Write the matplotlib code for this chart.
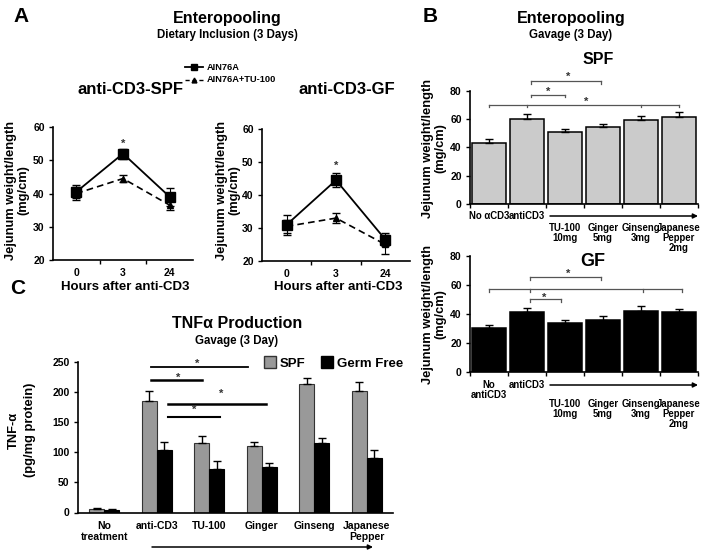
import matplotlib
matplotlib.use('Agg')
import matplotlib.pyplot as plt
import numpy as np
from matplotlib.lines import Line2D
from matplotlib.patches import Patch, FancyArrowPatch
import matplotlib.transforms as mtransforms

plt.rcParams['font.family'] = ['Liberation Sans', 'DejaVu Sans']
plt.rcParams['font.weight'] = 'bold'
plt.rcParams['axes.labelweight'] = 'bold'

W, H = 720, 551

# ---------------- data ----------------
hours = ['0', '3', '24']
spf_ain = [40.5, 52.0, 39.0]
spf_ain_err = [2.0, 1.5, 2.8]
spf_tu = [40.0, 44.5, 36.5]
spf_tu_err = [2.0, 1.0, 1.5]
gf_ain = [31.0, 44.5, 26.5]
gf_ain_err = [3.0, 2.2, 2.0]
gf_tu = [30.5, 33.0, 25.0]
gf_tu_err = [2.0, 1.5, 3.0]

gav_spf_labels = ['No \u03b1CD3', 'antiCD3', 'TU-100\n10mg', 'Ginger\n5mg', 'Ginseng\n3mg', 'Japanese\nPepper\n2mg']
gav_gf_labels = ['No\nantiCD3', 'antiCD3', 'TU-100\n10mg', 'Ginger\n5mg', 'Ginseng\n3mg', 'Japanese\nPepper\n2mg']
gav_spf = [43.5, 60.2, 50.8, 54.2, 59.8, 61.3]
gav_spf_err = [2.4, 3.6, 2.6, 2.4, 2.8, 3.8]
gav_gf = [29.8, 41.5, 33.7, 35.5, 42.0, 41.3]
gav_gf_err = [2.3, 2.5, 1.9, 3.0, 3.3, 1.9]

tnf_labels = ['No\ntreatment', 'anti-CD3', 'TU-100', 'Ginger', 'Ginseng', 'Japanese\nPepper']
tnf_spf = [6, 185, 116, 110, 213, 201]
tnf_spf_err = [1, 17, 11, 7, 11, 16]
tnf_gf = [4, 103, 73, 76, 116, 91]
tnf_gf_err = [1, 14, 12, 5.5, 8, 12]

# ---------------- helpers ----------------
def rect(l, t, r, b):
    return [l / W, 1 - b / H, (r - l) / W, (b - t) / H]

def fx(x):
    return x / W

def fy(y):
    return 1 - y / H

fig = plt.figure(figsize=(7.2, 5.51), dpi=100)

def ftext(x, y, s, size, ha='center', va='center', **kw):
    fig.text(fx(x), fy(y), s, fontsize=size, ha=ha, va=va, fontweight='bold', **kw)

def style_axes(ax):
    for s in ['top', 'right']:
        ax.spines[s].set_visible(False)
    for s in ['left', 'bottom']:
        ax.spines[s].set_linewidth(1.2)
    ax.tick_params(axis='both', which='both', labelsize=7.5, width=1, length=3, pad=3)
    for lab in ax.get_yticklabels():
        lab.set_fontweight('bold')

def star(ax, x, y, size=8):
    # place the glyph centre (not the text box centre) at (x, y)
    tr = mtransforms.offset_copy(ax.transData, fig=fig, y=-0.58 * size, units='points')
    ax.text(x, y, '*', transform=tr, ha='center', va='baseline', fontsize=size,
            color='#333333', clip_on=False)

def farrow(x0, x1, y):
    fig.add_artist(FancyArrowPatch((fx(x0), fy(y)), (fx(x1), fy(y)), transform=fig.transFigure,
                                   arrowstyle='-|>', mutation_scale=7, lw=1.1, color='black',
                                   shrinkA=0, shrinkB=0))

# ---------------- Panel A ----------------
ftext(13, 17, 'A', 15, ha='left')
ftext(227, 18, 'Enteropooling', 11.5)
ftext(227, 35, 'Dietary Inclusion (3 Days)', 8.3)
ftext(130, 89, 'anti-CD3-SPF', 12)
ftext(347, 89, 'anti-CD3-GF', 12)

fig.add_artist(Line2D([fx(185), fx(194), fx(203)], [fy(67)] * 3, transform=fig.transFigure,
                      color='black', lw=1.3, marker='s', ms=4.5, markevery=[1]))
fig.add_artist(Line2D([fx(185), fx(194), fx(203)], [fy(80)] * 3, transform=fig.transFigure,
                      color='black', lw=1.0, ls=(0, (3, 2)), marker='^', ms=3.5, markevery=[1]))
ftext(207, 67, 'AIN76A', 6.7, ha='left')
ftext(207, 80, 'AIN76A+TU-100', 6.7, ha='left')

def line_panel(box, ain, ain_err, tu, tu_err, star_y):
    ax = fig.add_axes(rect(*box))
    x = np.arange(len(hours))
    ax.errorbar(x, tu, yerr=tu_err, fmt='--^', color='black', ms=4.5, lw=1.2,
                elinewidth=0.8, capsize=3, dashes=(4, 2.5))
    ax.errorbar(x, ain, yerr=ain_err, fmt='-s', color='black', ms=6.5, lw=1.3,
                elinewidth=0.8, capsize=3)
    star(ax, 1, star_y)
    ax.set_xlim(-0.5, 2.5)
    ax.set_ylim(20, 60)
    ax.set_yticks([20, 30, 40, 50, 60])
    ax.set_xticks(x)
    ax.set_xticklabels(hours, fontweight='bold')
    ax.set_xticks([0.5, 1.5], minor=True)
    style_axes(ax)
    ax.tick_params(axis='x', which='major', length=0, pad=6)
    return ax

axA1 = line_panel((53, 127, 193, 260), spf_ain, spf_ain_err, spf_tu, spf_tu_err, 56)
axA2 = line_panel((262, 129, 410, 261), gf_ain, gf_ain_err, gf_tu, gf_tu_err, 49.8)

ylab = 'Jejunum weight/length\n(mg/cm)'
ftext(17, 190, ylab, 9.3, rotation=90, multialignment='center', linespacing=1.0)
ftext(228, 190, ylab, 9.3, rotation=90, multialignment='center', linespacing=1.0)
ftext(125, 287, 'Hours after anti-CD3', 9.5)
ftext(338, 287, 'Hours after anti-CD3', 9.5)

# ---------------- Panel B ----------------
ftext(423, 16, 'B', 15, ha='left')
ftext(571, 18, 'Enteropooling', 11.5)
ftext(571, 35, 'Gavage (3 Day)', 8.3)
ftext(598, 60, 'SPF', 11.5)
ftext(593, 262, 'GF', 13)

def bracket(ax, x0, x1, y, ticks, color='#555555', h=1.8):
    ax.plot([x0, x1], [y, y], color=color, lw=0.9, clip_on=False)
    for t in ticks:
        ax.plot([t, t], [y, y - h], color=color, lw=0.9, clip_on=False)

def bar_panel(box, vals, errs, color, labels, row1_y, row2_y):
    ax = fig.add_axes(rect(*box))
    x = np.arange(len(vals))
    ax.bar(x, vals, width=0.92, color=color, edgecolor='black', lw=1.1, zorder=2)
    ax.errorbar(x, vals, yerr=[np.zeros(len(errs)), errs], fmt='none', ecolor='black',
                elinewidth=1.0, capsize=3, capthick=1.0, zorder=3)
    ax.set_xlim(-0.5, len(vals) - 0.5)
    ax.set_ylim(0, 80)
    ax.set_yticks([0, 20, 40, 60, 80])
    ax.set_xticks(np.arange(-0.5, len(vals), 1.0))
    ax.set_xticklabels([])
    style_axes(ax)
    tr = mtransforms.blended_transform_factory(ax.transData, fig.transFigure)
    for i, lab in enumerate(labels):
        yy = row1_y if i < 2 else row2_y
        ax.text(i, fy(yy), lab, transform=tr, ha='center', va='top', fontsize=6.9,
                fontweight='bold', linespacing=1.0)
    return ax

axB1 = bar_panel((470, 91, 698, 204), gav_spf, gav_spf_err, '#cbcbcb', gav_spf_labels, 211, 223)
bracket(axB1, 0, 5, 70.4, [0, 1, 4, 5])
bracket(axB1, 1.1, 2.0, 77.4, [1.1, 2.0])
bracket(axB1, 1.1, 2.95, 87.0, [1.1, 2.95])
star(axB1, 2.55, 74.6)
star(axB1, 1.55, 82.0)
star(axB1, 2.08, 92.5)
farrow(550, 698, 216)

axB2 = bar_panel((470, 256, 698, 371.5), gav_gf, gav_gf_err, 'black', gav_gf_labels, 380, 399)
bracket(axB2, 0, 5.08, 57.1, [0, 1.08, 4.04, 5.08])
bracket(axB2, 1.08, 2.95, 65.4, [1.08, 2.95])
bracket(axB2, 1.08, 1.9, 50.2, [1.08, 1.9])
star(axB2, 2.08, 70.3)
star(axB2, 1.45, 53.6)
farrow(550, 698, 385)

ftext(434, 148, ylab, 9.3, rotation=90, multialignment='center', linespacing=1.0)
ftext(434, 314, ylab, 9.3, rotation=90, multialignment='center', linespacing=1.0)

# ---------------- Panel C ----------------
ftext(10, 288, 'C', 15, ha='left')
ftext(237, 323, 'TNF\u03b1 Production', 11.5)
ftext(237, 341, 'Gavage (3 Day)', 8.3)

axC = fig.add_axes(rect(78, 362, 393, 512.5))
xc = np.arange(len(tnf_labels))
bw = 0.29
axC.bar(xc - bw, tnf_spf, width=bw, align='edge', color='#999999', edgecolor='#333333', lw=0.8,
        label='SPF', zorder=2)
axC.bar(xc, tnf_gf, width=bw, align='edge', color='black', edgecolor='black', lw=0.8,
        label='Germ Free', zorder=2)
axC.errorbar(xc - bw / 2, tnf_spf, yerr=[np.zeros(len(tnf_spf)), tnf_spf_err], fmt='none',
             ecolor='black', elinewidth=1.0, capsize=3, zorder=3)
axC.errorbar(xc + bw / 2, tnf_gf, yerr=[np.zeros(len(tnf_gf)), tnf_gf_err], fmt='none',
             ecolor='black', elinewidth=1.0, capsize=3, zorder=3)
axC.set_xlim(-0.5, len(tnf_labels) - 0.5)
axC.set_ylim(0, 250)
axC.set_yticks([0, 50, 100, 150, 200, 250])
axC.set_xticks(xc)
axC.set_xticklabels(tnf_labels, fontweight='bold', linespacing=1.1)
style_axes(axC)
axC.tick_params(axis='x', length=0, pad=6)

for (x0, x1, y, lw) in [(0.89, 2.74, 241.8, 1.3), (0.89, 1.86, 220, 1.8),
                        (1.21, 3.08, 180, 1.8), (1.21, 2.2, 159, 1.5)]:
    axC.plot([x0, x1], [y, y], color='black', lw=lw, clip_on=False)
for (sx, sy) in [(1.77, 253), (1.40, 229), (2.22, 202), (1.71, 175.6)]:
    star(axC, sx, sy)

handles = [Patch(facecolor='#999999', edgecolor='#333333', label='SPF'),
           Patch(facecolor='black', edgecolor='black', label='Germ Free')]
fig.legend(handles=handles, loc='center left', bbox_to_anchor=(fx(264), fy(363)), ncol=2,
           frameon=False, handlelength=0.9, handleheight=1.0, handletextpad=0.3,
           columnspacing=1.2, borderpad=0, borderaxespad=0, prop={'weight': 'bold', 'size': 9.5})

farrow(152, 373, 547)
ftext(22, 430, 'TNF-\u03b1\n(pg/mg protein)', 9.3, rotation=90, multialignment='center', linespacing=1.5)

fig.savefig('out.png', dpi=100)
